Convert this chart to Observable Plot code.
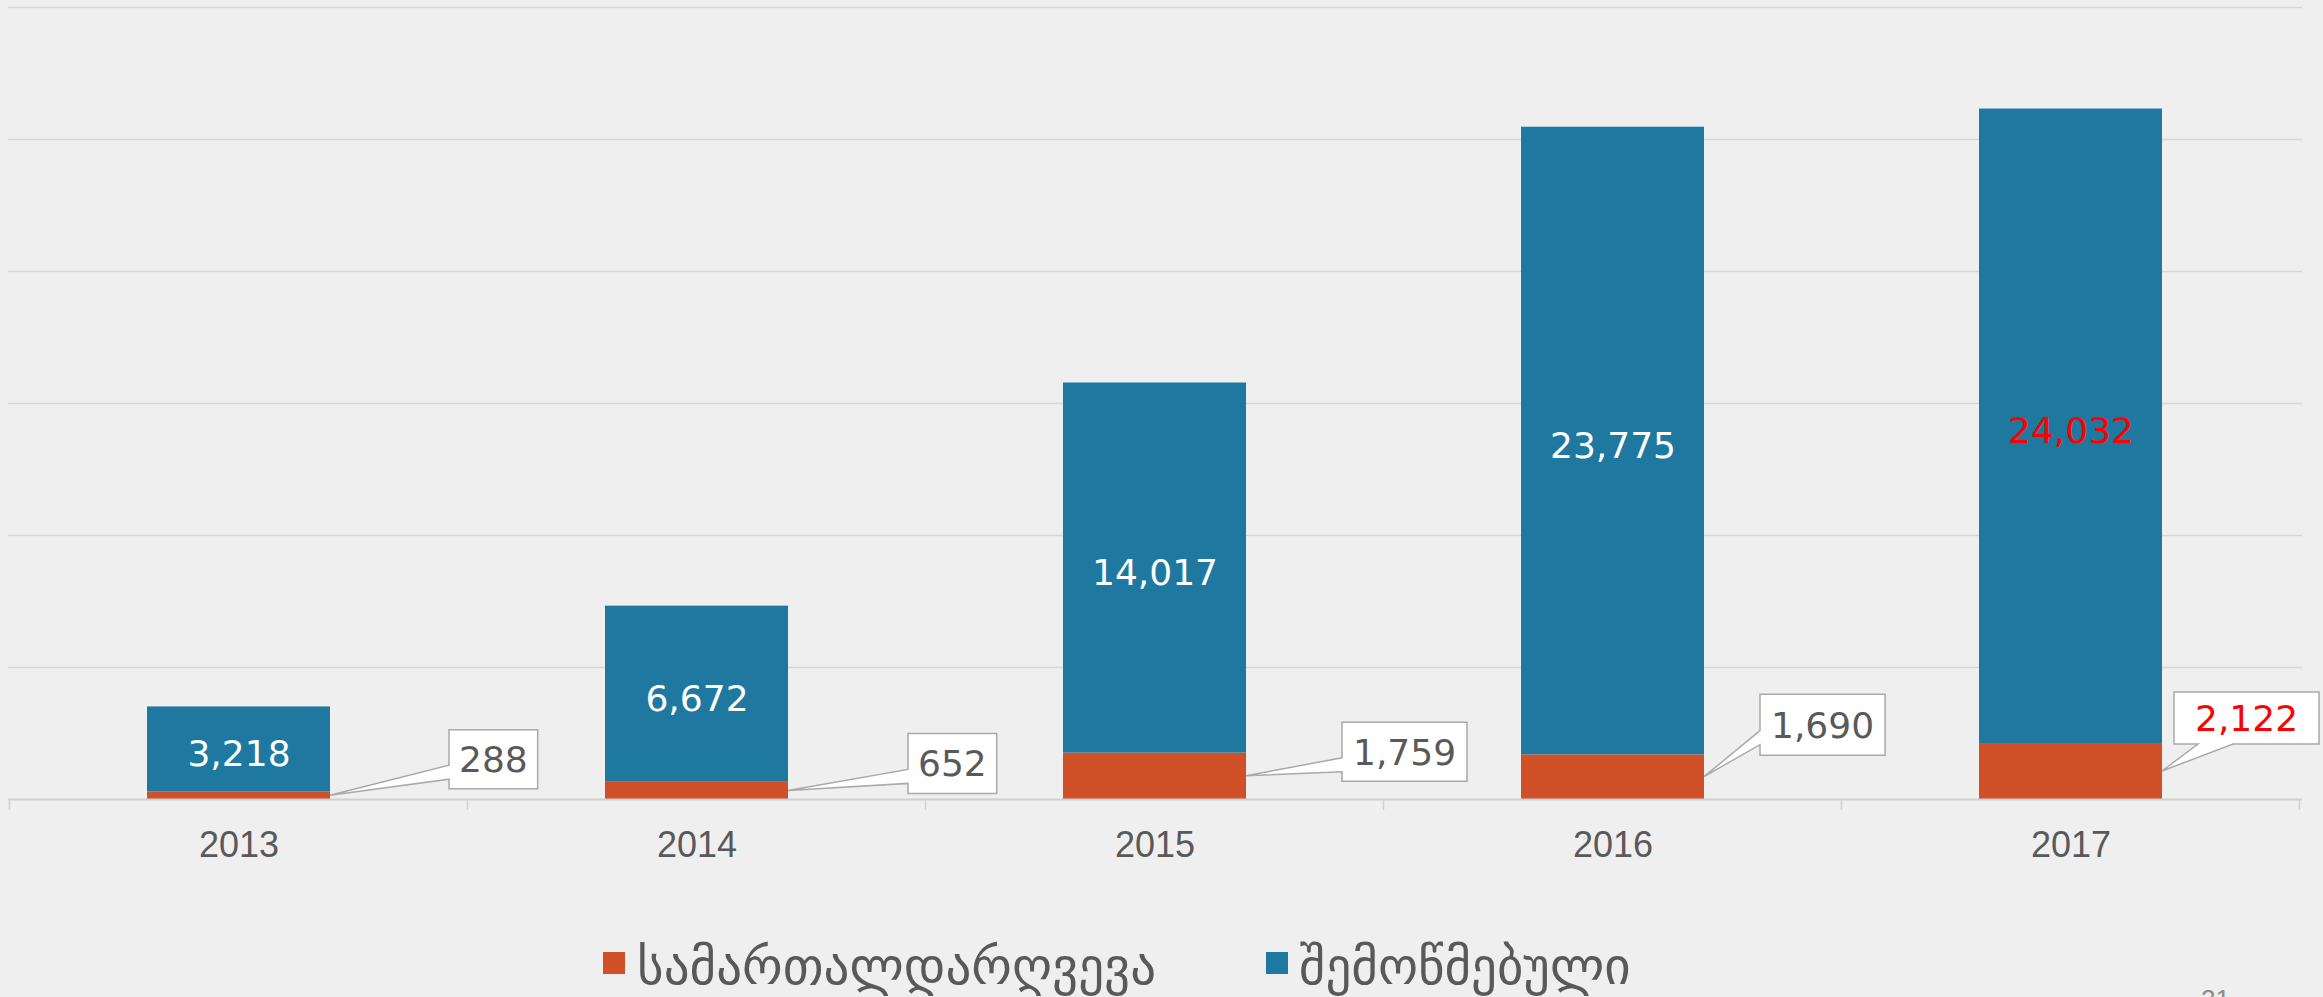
<!DOCTYPE html>
<html>
<head>
<meta charset="utf-8">
<script src="https://cdn.jsdelivr.net/npm/d3@7"></script>
<script src="https://cdn.jsdelivr.net/npm/@observablehq/plot@0.6"></script>
<style>
  html, body { margin: 0; padding: 0; background: #efefef; overflow: hidden; }
  #page { position: relative; width: 2323px; height: 997px; overflow: hidden; background: #efefef; }
  #chart { position: absolute; left: 0; top: 0; }
  .sw { position: absolute; width: 22px; height: 22px; }
  .lt { position: absolute; font-family: "DejaVu Sans", sans-serif; font-size: 51px; line-height: 51px; color: #595959; white-space: nowrap; }
  #pnum { position: absolute; left: 2201px; top: 986px; font-family: "Liberation Sans", Arial, sans-serif; font-size: 26px; line-height: 26px; color: #8c8c8c; }
</style>
</head>
<body>
<div id="page">
  <div id="chart"></div>
  <div class="sw" id="sw0" style="left:603px; top:952px;"></div>
  <div class="lt" id="lt0" style="left:637px; top:941px;"></div>
  <div class="sw" id="sw1" style="left:1266px; top:952px;"></div>
  <div class="lt" id="lt1" style="left:1299px; top:941px;"></div>
  <div id="pnum">21</div>
</div>
<script>
// ---- data ----
const years = ["2013", "2014", "2015", "2016", "2017"];
const violations = [288, 652, 1759, 1690, 2122];      // სამართალდარღვევა
const inspected = [3218, 6672, 14017, 23775, 24032];  // შემოწმებული
const seriesNames = ["სამართალდარღვევა", "შემოწმებული"];
const gridTicks = [5000, 10000, 15000, 20000, 25000, 30000];
const highlightYear = "2017";

// ---- layout / style ----
const colors = ["#d05127", "#1f78a0"];
const calloutLayout = [
  {dx: 119, dy: -36, h: 59, pad: 10, side: "left"},
  {dx: 120, dy: -27, h: 60, pad: 10, side: "left"},
  {dx: 96, dy: -24, h: 59, pad: 11, side: "left"},
  {dx: 56, dy: -52, h: 61, pad: 11, side: "left"},
  {dx: 12, dy: -53, h: 52, pad: 21, side: "bottom"}
];
const fmt = d3.format(",");
const FONT = "DejaVu Sans, sans-serif";
const LABEL = 36;

const rows = years.flatMap((yr, i) => [
  {year: yr, series: seriesNames[0], value: violations[i]},
  {year: yr, series: seriesNames[1], value: inspected[i]}
]);

function textWidth(s) {
  let w = 0;
  for (const c of s) w += (c === "," ? 0.318 : 0.636);
  return w * LABEL;
}

// boundary tick marks along the baseline (between categories)
function boundaryTicks(index, scales) {
  const x = scales.x, y = scales.y;
  const bw = x.bandwidth(), step = x.step();
  const gap = (step - bw) / 2;
  const g = d3.create("svg:g");
  const y0 = y(0);
  const xs = years.map(yr => x(yr) - gap);
  xs.push(x(years[years.length - 1]) + bw + gap);
  for (const xv of xs) {
    g.append("line").attr("x1", xv).attr("x2", xv).attr("y1", y0).attr("y2", y0 + 11)
      .attr("stroke", "#d0d0d0").attr("stroke-width", 1.5);
  }
  return g.node();
}

// callout boxes for the orange series
function callouts(index, scales) {
  const x = scales.x, y = scales.y;
  const bw = x.bandwidth();
  const g = d3.create("svg:g");
  years.forEach((yr, i) => {
    const v = violations[i];
    const o = calloutLayout[i];
    const tipX = x(yr) + bw, tipY = y(v / 2);
    const label = fmt(v);
    const w = textWidth(label) + 2 * o.pad, h = o.h;
    const L = tipX + o.dx, T = tipY + o.dy - h / 2, R = L + w, B = T + h;
    let d;
    if (o.side === "left") {
      const a = T + h / 2 + 6, b = T + h / 2 + 20;
      d = `M${L},${T}H${R}V${B}H${L}V${b}L${tipX},${tipY}L${L},${a}Z`;
    } else {
      const a = L + 24, b = L + 59;
      d = `M${L},${T}H${R}V${B}H${b}L${tipX},${tipY}L${a},${B}H${L}Z`;
    }
    g.append("path").attr("d", d).attr("fill", "#ffffff")
      .attr("stroke", "#a9a9a9").attr("stroke-width", 1.5).attr("stroke-linejoin", "miter");
    g.append("text").attr("x", L + w / 2).attr("y", T + h / 2).attr("dy", "0.36em")
      .attr("text-anchor", "middle").attr("font-family", FONT).attr("font-size", LABEL)
      .attr("fill", yr === highlightYear ? "#ff0000" : "#595959").text(label);
  });
  return g.node();
}

const mid = d => violations[years.indexOf(d)] + inspected[years.indexOf(d)] / 2;

const chart = Plot.plot({
  width: 2323,
  height: 900,
  marginLeft: 8,
  marginRight: 21,
  marginTop: 7,
  marginBottom: 101,
  style: {background: "transparent", overflow: "visible", fontFamily: FONT},
  x: {domain: years, paddingInner: 0.6, paddingOuter: 0.3, axis: null},
  y: {domain: [0, 30000], axis: null},
  color: {domain: seriesNames, range: colors},
  marks: [
    Plot.ruleY(gridTicks, {stroke: "#d6d6d6", strokeWidth: 1.5, strokeOpacity: 1}),
    Plot.barY(rows, {x: "year", y: "value", fill: "series", order: seriesNames}),
    Plot.ruleY([0], {stroke: "#d0d0d0", strokeWidth: 2, strokeOpacity: 1}),
    boundaryTicks,
    Plot.text(years, {
      x: d => d, y: () => 0, dy: 46, text: d => d,
      fontFamily: "Liberation Sans, Arial, sans-serif", fontSize: 36, fill: "#595959"
    }),
    Plot.text(years, {
      filter: d => d !== highlightYear,
      x: d => d, y: mid, dy: 5,
      text: d => fmt(inspected[years.indexOf(d)]),
      fontFamily: FONT, fontSize: LABEL, fill: "#ffffff"
    }),
    Plot.text(years, {
      filter: d => d === highlightYear,
      x: d => d, y: mid, dy: 5,
      text: d => fmt(inspected[years.indexOf(d)]),
      fontFamily: FONT, fontSize: LABEL, fill: "#ff0000"
    }),
    callouts
  ]
});
document.getElementById("chart").appendChild(chart);

// legend
seriesNames.forEach((name, i) => {
  document.getElementById("sw" + i).style.background = colors[i];
  document.getElementById("lt" + i).textContent = name;
});
</script>
</body>
</html>
